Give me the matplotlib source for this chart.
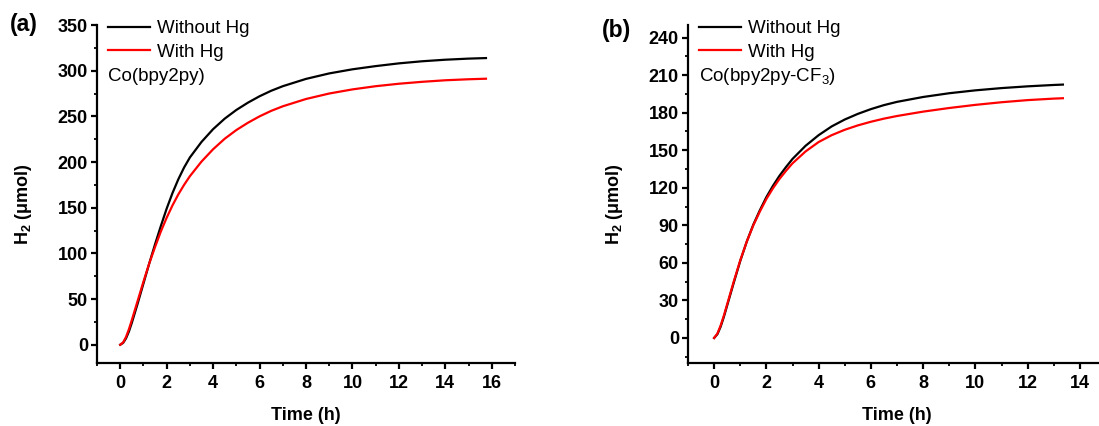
import matplotlib as mpl
mpl.use('Agg')
import matplotlib.pyplot as plt
from matplotlib.ticker import MultipleLocator

plt.rcParams['font.family'] = ['Liberation Sans', 'DejaVu Sans']
plt.rcParams['mathtext.fontset'] = 'custom'
plt.rcParams['mathtext.rm'] = 'Liberation Sans'
plt.rcParams['mathtext.it'] = 'Liberation Sans:italic'
plt.rcParams['mathtext.bf'] = 'Liberation Sans:bold'

# H2 evolution, Co(bpy2py)
t_a = [0, 0.125, 0.25, 0.375, 0.5, 0.75, 1.0, 1.25, 1.5, 1.75, 2.0, 2.25, 2.5,
       2.75, 3.0, 3.5, 4.0, 4.5, 5.0, 5.5, 6.0, 6.5, 7.0, 8.0, 9.0, 10.0,
       11.0, 12.0, 13.0, 14.0, 15.0, 15.75]
no_hg_a = [0, 2, 7, 14.5, 24, 45, 67, 89, 110, 130, 149, 166, 181,
           194, 205, 222, 236, 247.5, 257, 265, 272, 278, 283, 291, 297, 301.5,
           305, 308, 310.3, 312, 313.2, 313.8]
hg_a = [0, 2.5, 8.5, 17, 27, 48, 69, 89, 107, 124, 139, 152.5, 164.5,
        175, 184.5, 200.5, 214, 225.5, 235, 243, 250, 256, 261, 269, 275, 279.5,
        283, 285.7, 287.8, 289.5, 290.6, 291.2]

# H2 evolution, Co(bpy2py-CF3)
t_b = [0, 0.125, 0.25, 0.375, 0.5, 0.75, 1.0, 1.25, 1.5, 1.75, 2.0, 2.25, 2.5,
       2.75, 3.0, 3.5, 4.0, 4.5, 5.0, 5.5, 6.0, 6.5, 7.0, 8.0, 9.0, 10.0,
       11.0, 12.0, 13.0, 13.35]
no_hg_b = [0, 3, 9, 17, 26, 44, 61.5, 77, 90.5, 102, 112.5, 121.5, 129.5,
           136.5, 143, 153.5, 162, 169, 174.5, 179, 182.8, 186, 188.6, 192.5, 195.5,
           197.8, 199.6, 201, 202.1, 202.4]
hg_b = [0, 3.5, 10, 18, 27, 45, 62, 77, 90, 101, 111, 119.5, 127,
        133.5, 139.5, 149, 156.5, 162, 166.3, 169.8, 172.7, 175.2, 177.3, 180.8, 183.7,
        186.2, 188.3, 190, 191.2, 191.5]

labels = ['Without Hg', 'With Hg']
colors = ['black', 'red']


def style_axes(ax, xlim, ylim, ymajor, yminor):
    ax.set_xlim(*xlim)
    ax.set_ylim(*ylim)
    ax.spines['top'].set_visible(False)
    ax.spines['right'].set_visible(False)
    for s in ['left', 'bottom']:
        ax.spines[s].set_linewidth(1.6)
    ax.xaxis.set_major_locator(MultipleLocator(2))
    ax.xaxis.set_minor_locator(MultipleLocator(1))
    ax.yaxis.set_major_locator(MultipleLocator(ymajor))
    ax.yaxis.set_minor_locator(MultipleLocator(yminor))
    ax.tick_params(which='major', length=4.5, width=1.6, labelsize=13)
    ax.tick_params(which='minor', length=2.5, width=1.3)
    ax.tick_params(axis='y', which='major', pad=2)
    ax.tick_params(axis='x', which='major', pad=4)
    for lab in ax.get_xticklabels() + ax.get_yticklabels():
        lab.set_fontweight('bold')
    ax.set_xlabel('Time (h)', fontsize=13, fontweight='bold', labelpad=11)
    ax.set_ylabel(r'H$_\mathbf{2}$ (μmol)', fontsize=13, fontweight='bold')
    ax.yaxis.set_label_coords(-0.15, 0.47)


fig = plt.figure(figsize=(10.99, 4.26), dpi=100)
ax1 = fig.add_axes([97 / 1099, 63 / 426, 418 / 1099, 338 / 426])
ax2 = fig.add_axes([688 / 1099, 63 / 426, 418 / 1099, 338 / 426])

for ax, t, ys, name in [(ax1, t_a, [no_hg_a, hg_a], 'Co(bpy2py)'),
                        (ax2, t_b, [no_hg_b, hg_b], r'Co(bpy2py-CF$_3$)')]:
    for y, lab, c in zip(ys, labels, colors):
        ax.plot(t, y, color=c, lw=1.6, label=lab)
    ax.legend(loc='upper left', bbox_to_anchor=(0.008, 1.037), frameon=False,
              fontsize=13.5, handlelength=2.24, handletextpad=0.37,
              labelspacing=0.36, borderaxespad=0.0)
    ax.text(0.026, 0.849, name, transform=ax.transAxes, fontsize=13.5,
            va='center', ha='left')

style_axes(ax1, (-1, 17), (-20, 350), 50, 25)
style_axes(ax2, (-1, 15), (-20, 250), 30, 15)

fig.text(10 / 1099, 1 - 25 / 426, '(a)', fontsize=16.5, fontweight='bold',
         va='center', ha='left')
fig.text(602 / 1099, 1 - 30 / 426, '(b)', fontsize=16.5, fontweight='bold',
         va='center', ha='left')

fig.savefig('out.png', dpi=100)
